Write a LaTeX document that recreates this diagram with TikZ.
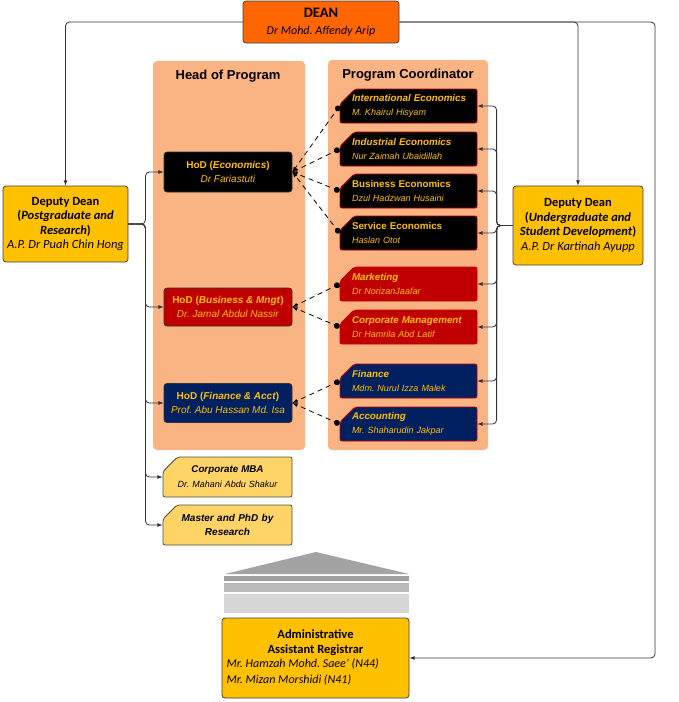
\documentclass[tikz,border=0pt]{standalone}
\usepackage{fontspec}
\setmainfont{Liberation Sans}
\newfontfamily\calib{Carlito}
\usetikzlibrary{shapes}
\usetikzlibrary{arrows}
\usetikzlibrary{positioning}

\definecolor{deanorange}{HTML}{FF6600}
\definecolor{gold}{HTML}{FFC000}
\definecolor{lightgold}{HTML}{FFD466}
\definecolor{peach}{HTML}{FAB383}
\definecolor{bizred}{HTML}{C00000}
\definecolor{finnavy}{HTML}{002060}
\definecolor{linegray}{HTML}{333333}
\definecolor{roofgray}{HTML}{A3A3A3}

\newcommand{\ctitle}[1]{\mbox{\fontsize{9.8}{14}\selectfont\bfseries #1}}

\begin{document}
\frenchspacing
\begin{tikzpicture}[x=1pt,y=-1pt,
  chief/.style={draw=black!75,line width=0.8pt,rounded corners=3pt,align=center,inner sep=0pt},
  deputy/.style={chief,fill=gold,font=\calib\fontsize{12.5}{14.6}\selectfont},
  hod/.style={draw=black!80,line width=0.8pt,rounded corners=3pt,text=gold,align=center,inner sep=0pt,minimum width=128pt,minimum height=39pt,font=\fontsize{10}{14}\selectfont},
  coord/.style={shape=chamfered rectangle,chamfered rectangle corners=north west,chamfered rectangle xsep=12pt,draw=bizred,line width=0.8pt,rounded corners=2pt,text=gold,align=left,text width=113pt,inner sep=0pt,minimum width=137pt,minimum height=34pt,font=\fontsize{9}{14}\selectfont\itshape},
  phd/.style={coord,chamfered rectangle xsep=14pt,draw=black!70,fill=lightgold,text=black,align=center,text width=101pt,minimum width=129pt,minimum height=40pt},
  link/.style={draw=linegray,line width=0.8pt,rounded corners=4pt,->,>=latex},
  feed/.style={draw=black,line width=0.8pt,dash pattern=on 5pt off 4pt,*->,>=latex},
]
\useasboundingbox (0,0) rectangle (679,702);

% panels
\fill[peach,rounded corners=4pt] (153,61) rectangle (305,450);
\fill[peach,rounded corners=4pt] (328,60) rectangle (488,450);
\node[font=\fontsize{13}{15}\selectfont\bfseries] (hophead) at (228,76) {Head of Program};
\node[font=\fontsize{13}{15}\selectfont\bfseries] (pchead) at (408,75) {Program Coordinator};

% top level
\node[chief,fill=deanorange,minimum width=156pt,minimum height=42pt,font=\calib\fontsize{12}{17}\selectfont] (dean) at (321,22)
  {{\fontsize{14.5}{17}\selectfont\bfseries DEAN}\\ \textit{Dr Mohd. Affendy Arip}};
\node[deputy,minimum width=125pt,minimum height=76pt] (dpg) at (65.5,224)
  {\textbf{Deputy Dean}\\ \textbf{(\textit{Postgraduate and}}\\ \textbf{\textit{Research})}\\ \textit{A.P. Dr Puah Chin Hong}};
\node[deputy,minimum width=130pt,minimum height=79pt] (dug) at (578,225.5)
  {\textbf{Deputy Dean}\\ \textbf{(\textit{Undergraduate and}}\\ \textbf{\textit{Student Development})}\\ \textit{A.P. Dr Kartinah Ayupp}};

% heads of program
\node[hod,fill=black,minimum height=40pt] (hodE) at (228,172) {\textbf{HoD (\textit{Economics})}\\ \textit{Dr Fariastuti}};
\node[hod,fill=bizred,minimum height=38pt] (hodB) at (228,307) {\textbf{HoD (\textit{Business \& Mngt})}\\ \textit{Dr. Jamal Abdul Nassir}};
\node[hod,fill=finnavy] (hodF) at (228,403) {\textbf{HoD (\textit{Finance \& Acct})}\\ \textit{Prof. Abu Hassan Md. Isa}};

% program coordinators
\node[coord,fill=black] (intl) at (408.5,106) {\ctitle{\textit{International Economics}}\\ M. Khairul Hisyam};
\node[coord,fill=black] (indus) at (408.5,149) {\ctitle{\textit{Industrial Economics}}\\ Nur Zaimah Ubaidillah};
\node[coord,fill=black] (buse) at (408.5,191) {\ctitle{\upshape Business Economics}\\ Dzul Hadzwan Husaini};
\node[coord,fill=black] (serve) at (408.5,233) {\ctitle{\upshape Service Economics}\\ Haslan Otot};
\node[coord,fill=bizred] (mktg) at (408.5,284) {\ctitle{\textit{Marketing}}\\ Dr NorizanJaafar};
\node[coord,fill=bizred] (corp) at (408.5,327) {\ctitle{\textit{Corporate Management}}\\ Dr Hamrila Abd Latif};
\node[coord,fill=finnavy] (fin) at (408.5,381) {\ctitle{\textit{Finance}}\\ Mdm. Nurul Izza Malek};
\node[coord,fill=finnavy] (acct) at (408.5,424) {\ctitle{\textit{Accounting}}\\ Mr. Shaharudin Jakpar};

% postgraduate programmes
\node[phd,font=\fontsize{9}{15}\selectfont\itshape] (mba) at (227.5,477) {\ctitle{Corporate MBA}\\ Dr. Mahani Abdu Shakur};
\node[phd,font=\fontsize{10}{13.5}\selectfont\bfseries\itshape] (mphd) at (227.5,525) {Master and PhD by\\ Research};

% administration
\fill[roofgray] (225,574) -- (316,552) -- (409,574) -- cycle;
\fill[black!38] (224,576) rectangle (409,581);
\fill[black!27] (224,583) rectangle (409,592);
\fill[black!16] (224,594) rectangle (409,613);
\node[chief,fill=gold,minimum width=187pt,minimum height=80pt] (adm) at (315.5,658) {};
\node[font=\calib\fontsize{12.5}{15}\selectfont\bfseries,align=center] (admtitle) at (315.5,643) {Administrative\\ Assistant Registrar};
\node[font=\calib\fontsize{12}{16}\selectfont\itshape,align=left,anchor=west] (admnames) at (223,672) {Mr. Hamzah Mohd. Saee’ (N44)\\ Mr. Mizan Morshidi (N41)};

% reporting lines
\coordinate (rail) at (655,300);
\draw[link] (dean.west) -| (dpg.north);
\draw[link] (dean.east) -| (dug.north);
\draw[link] (dean.east) -| (rail) |- (adm.east);

\draw[link] (dpg.east) -- ++(17,0) |- (hodE.west);
\draw[link] (dpg.east) -- ++(17,0) |- (hodB.west);
\draw[link] (dpg.east) -- ++(17,0) |- (hodF.west);
\draw[link] (dpg.east) -- ++(17,0) |- (mba.west);
\draw[link] (dpg.east) -- ++(17,0) |- (mphd.west);

\draw[link] (dug.west) -- ++(-16,0) |- (intl.east);
\draw[link] (dug.west) -- ++(-16,0) |- (indus.east);
\draw[link] (dug.west) -- ++(-16,0) |- (buse.east);
\draw[link] (dug.west) -- ++(-16,0) |- (serve.east);
\draw[link] (dug.west) -- ++(-16,0) |- (mktg.east);
\draw[link] (dug.west) -- ++(-16,0) |- (corp.east);
\draw[link] (dug.west) -- ++(-16,0) |- (fin.east);
\draw[link] (dug.west) -- ++(-16,0) |- (acct.east);

\draw[feed] (intl.west) -- (hodE.east);
\draw[feed] (indus.west) -- (hodE.east);
\draw[feed] (buse.west) -- (hodE.east);
\draw[feed] (serve.west) -- (hodE.east);
\draw[feed] (mktg.west) -- (hodB.east);
\draw[feed] (corp.west) -- (hodB.east);
\draw[feed] (fin.west) -- (hodF.east);
\draw[feed] (acct.west) -- (hodF.east);
\end{tikzpicture}
\end{document}
